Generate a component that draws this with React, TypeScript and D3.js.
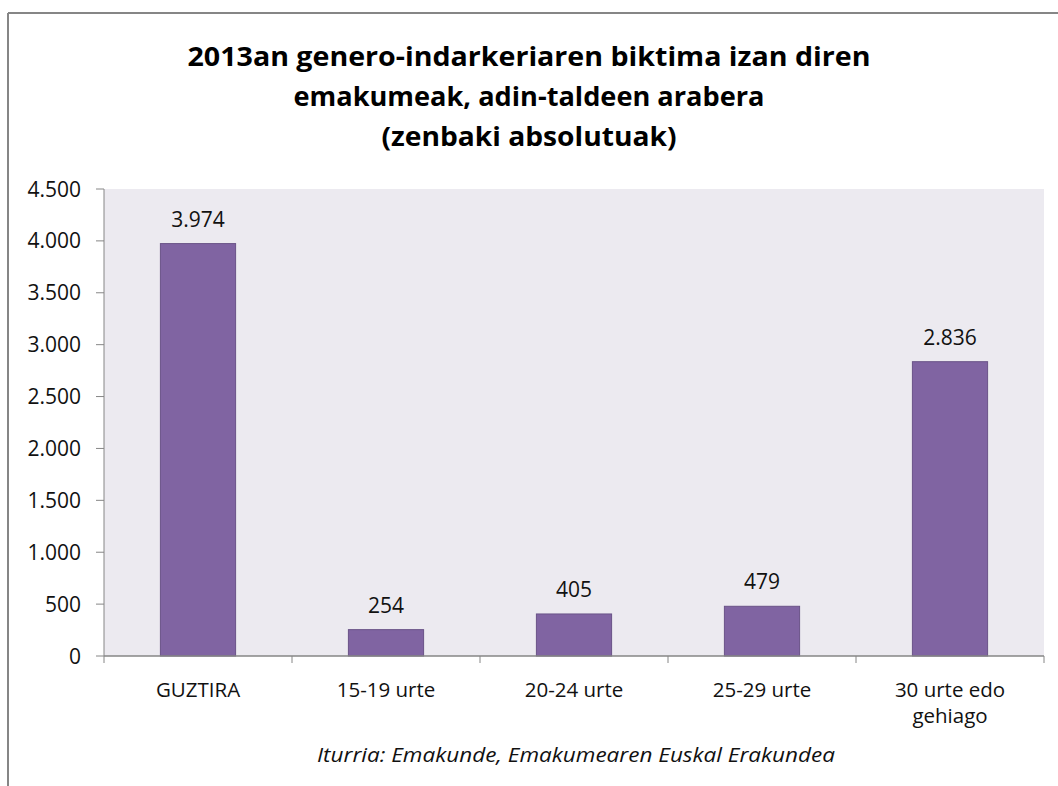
import React from "react";
import * as d3 from "d3";

const titleLines = [
  "2013an genero-indarkeriaren biktima izan diren",
  "emakumeak, adin-taldeen arabera",
  "(zenbaki absolutuak)",
];
const categories = ["GUZTIRA", "15-19 urte", "20-24 urte", "25-29 urte", "30 urte edo|gehiago"];
const values = [3974, 254, 405, 479, 2836];
const yTicks = [0, 500, 1000, 1500, 2000, 2500, 3000, 3500, 4000, 4500];
const source = "Iturria: Emakunde, Emakumearen Euskal Erakundea";

const W = 1058;
const H = 786;
const plot = { left: 104, right: 1044, top: 189, bottom: 656 };

const fmt = (v: number) => {
  const s = String(v);
  return s.length > 3 ? s.slice(0, s.length - 3) + "." + s.slice(s.length - 3) : s;
};

export default function App() {
  const x = d3
    .scaleBand<string>()
    .domain(categories)
    .range([plot.left, plot.right])
    .paddingInner(0.6)
    .paddingOuter(0.3);
  const band = (plot.right - plot.left) / categories.length;
  const y = d3.scaleLinear().domain([0, 4500]).range([plot.bottom, plot.top]);
  const font = "'Open Sans', 'Noto Sans', sans-serif";
  const titleWidths = [683, 471, 295];
  const titleBase = [66, 106, 146];

  return (
    <svg
      width={W}
      height={H}
      style={{ position: "absolute", left: 0, top: 0, background: "#fff" }}
    >
      {/* chart border */}
      <line x1={8} y1={13} x2={W} y2={13} stroke="#868686" strokeWidth={2} />
      <line x1={8} y1={13} x2={8} y2={H} stroke="#868686" strokeWidth={2} />

      {titleLines.map((t, i) => (
        <text
          key={i}
          x={529}
          y={titleBase[i]}
          textAnchor="middle"
          fontFamily={font}
          fontWeight="bold"
          fontSize={27}
          fill="#000"
          textLength={titleWidths[i]}
          lengthAdjust="spacingAndGlyphs"
        >
          {t}
        </text>
      ))}

      <rect
        x={plot.left}
        y={plot.top}
        width={plot.right - plot.left}
        height={plot.bottom - plot.top}
        fill="#ECEAF0"
      />

      {/* y axis */}
      <line x1={plot.left} y1={plot.top} x2={plot.left} y2={plot.bottom} stroke="#868686" strokeWidth={1} />
      {yTicks.map((t) => (
        <g key={t}>
          <line x1={plot.left - 8} x2={plot.left} y1={y(t)} y2={y(t)} stroke="#868686" />
          <text
            x={81}
            y={y(t)}
            dy="0.36em"
            textAnchor="end"
            fontFamily={font}
            fontSize={21}
            fill="#111"
          >
            {fmt(t)}
          </text>
        </g>
      ))}

      {/* bars */}
      {categories.map((c, i) => (
        <g key={c}>
          <rect
            x={x(c)!}
            y={y(values[i])}
            width={x.bandwidth()}
            height={plot.bottom - y(values[i])}
            fill="#8064A2"
            stroke="#6A5388"
            strokeWidth={1}
          />
          <text
            x={x(c)! + x.bandwidth() / 2}
            y={y(values[i]) - 17}
            textAnchor="middle"
            fontFamily={font}
            fontSize={21}
            fill="#111"
          >
            {fmt(values[i])}
          </text>
        </g>
      ))}

      {/* x axis */}
      <line x1={plot.left} y1={plot.bottom} x2={plot.right} y2={plot.bottom} stroke="#868686" strokeWidth={1.5} />
      {d3.range(categories.length + 1).map((i) => (
        <line
          key={i}
          x1={plot.left + i * band}
          x2={plot.left + i * band}
          y1={plot.bottom}
          y2={plot.bottom + 7}
          stroke="#868686"
        />
      ))}
      {categories.map((c) => (
        <text
          key={c}
          x={x(c)! + x.bandwidth() / 2}
          y={697}
          textAnchor="middle"
          fontFamily={font}
          fontSize={20.5}
          fill="#111"
        >
          {c.split("|").map((part, j) => (
            <tspan key={j} x={x(c)! + x.bandwidth() / 2} dy={j === 0 ? 0 : 26}>
              {part}
            </tspan>
          ))}
        </text>
      ))}

      <text
        x={576}
        y={762}
        textAnchor="middle"
        fontFamily={font}
        fontStyle="italic"
        fontSize={20}
        fill="#111"
        textLength={518}
        lengthAdjust="spacingAndGlyphs"
      >
        {source}
      </text>
    </svg>
  );
}
